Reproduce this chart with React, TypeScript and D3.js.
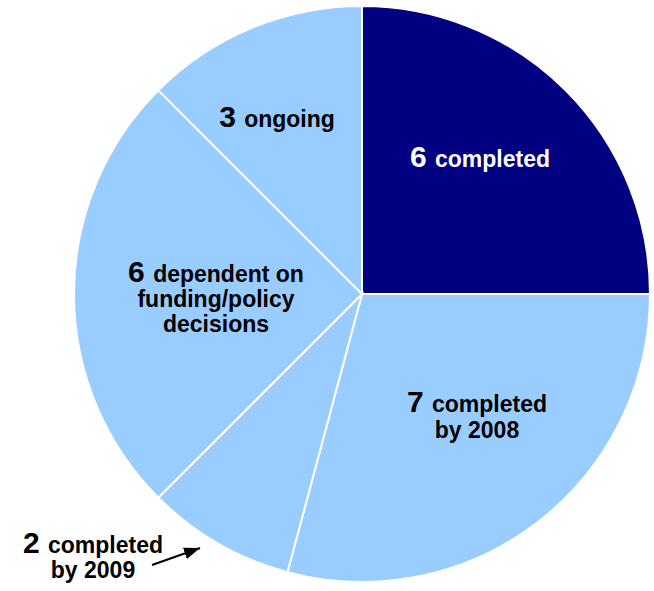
import React from "react";
import * as d3 from "d3";

const categories = ["completed", "completed by 2008", "completed by 2009", "dependent on funding/policy decisions", "ongoing"];
const values = [6, 7, 2, 6, 3];
const colors = ["#000080", "#99CCFF", "#99CCFF", "#99CCFF", "#99CCFF"];

const W = 654, H = 591;
const cx = 362, cy = 294, R = 288;

type Lbl = { x: number; y: number; lines: string[]; color: string; gap: number };
const labels: Lbl[] = [
  { x: 480, y: 167, lines: ["completed"], color: "#fff", gap: 25 },
  { x: 477, y: 412, lines: ["completed", "by 2008"], color: "#000", gap: 26 },
  { x: 93, y: 553, lines: ["completed", "by 2009"], color: "#000", gap: 25 },
  { x: 216, y: 282, lines: ["dependent on", "funding/policy", "decisions"], color: "#000", gap: 25 },
  { x: 277, y: 127, lines: ["ongoing"], color: "#000", gap: 25 },
];

export default function App() {
  const pie = d3.pie<number>().sort(null).value((d) => d).startAngle(0).endAngle(2 * Math.PI);
  const arcs = pie(values);
  const arc = d3.arc<d3.PieArcDatum<number>>().innerRadius(0).outerRadius(R);
  const font = "'Liberation Sans', Arial, sans-serif";
  return (
    <svg width={W} height={H} style={{ position: "absolute", left: 0, top: 0 }}>
      <defs>
        <marker id="ah" viewBox="0 0 16 12" refX="16" refY="6" markerWidth="16" markerHeight="12" orient="auto" markerUnits="userSpaceOnUse">
          <path d="M0,0 L16,6 L0,12 z" fill="#000" />
        </marker>
      </defs>
      <g transform={`translate(${cx},${cy})`}>
        {arcs.map((a, i) => (
          <path key={i} d={arc(a) || ""} fill={colors[i]} stroke="#fff" strokeWidth={2} />
        ))}
      </g>
      {labels.map((l, i) => (
        <text key={i} textAnchor="middle" fontFamily={font} fontWeight="bold" fill={l.color}>
          {l.lines.map((ln, j) => (
            <tspan key={j} x={l.x} y={l.y + j * l.gap}>
              {j === 0 ? <tspan fontSize={30}>{values[i]} </tspan> : null}
              <tspan fontSize={23}>{ln}</tspan>
            </tspan>
          ))}
        </text>
      ))}
      <line x1={152} y1={565} x2={200} y2={548} stroke="#000" strokeWidth={2} markerEnd="url(#ah)" />
    </svg>
  );
}
